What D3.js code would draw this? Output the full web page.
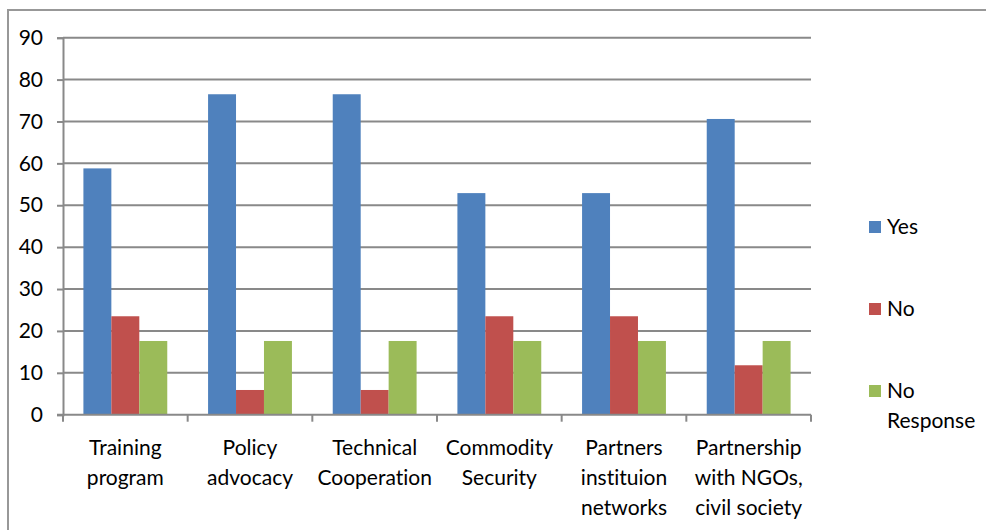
<!DOCTYPE html>
<html lang="en">
<head>
<meta charset="UTF-8" />
<title>Chart</title>
<style>
    body { margin: 0; background: #fff; }
    text { font-family: Lato, "Noto Sans", sans-serif; fill: #000; font-variant-ligatures: none; }
</style>
</head>
<body>
<div id="container"></div>
<script src="https://cdnjs.cloudflare.com/ajax/libs/d3/7.8.5/d3.min.js"></script>
<script>
    // data
    let categories = [["Training", "program"], ["Policy", "advocacy"], ["Technical", "Cooperation"],
        ["Commodity", "Security"], ["Partners", "instituion", "networks"], ["Partnership", "with NGOs,", "civil society"]];
    let series = ["Yes", "No", "No Response"];
    let yes = [58.8, 76.5, 76.5, 52.9, 52.9, 70.6],
        no = [23.5, 5.9, 5.9, 23.5, 23.5, 11.8],
        noResponse = [17.6, 17.6, 17.6, 17.6, 17.6, 17.6];
    let yTicks = [0, 10, 20, 30, 40, 50, 60, 70, 80, 90];
    let colors = ["#4F81BD", "#C0504D", "#9BBB59"];

    let W = 986, H = 530;
    let mLeft = 63, mRight = 811, mTop = 37.7, mBottom = 414.7;

    let svg = d3.select("#container").append("svg").attr("width", W).attr("height", H);

    // outer border (runs past the right and bottom edge)
    svg.append("rect").attr("x", 8).attr("y", 10).attr("width", 1000).attr("height", 560)
        .attr("fill", "none").attr("stroke", "#989898").attr("stroke-width", 2);

    let x = d3.scaleBand().domain(d3.range(categories.length)).range([mLeft, mRight]).paddingInner(0).paddingOuter(0);
    let xs = d3.scaleBand().domain(series).range([0, x.bandwidth()]).paddingInner(0).paddingOuter(0.73);
    let y = d3.scaleLinear().domain([0, 90]).range([mBottom, mTop]);

    // gridlines
    svg.append("g").selectAll("line").data(yTicks.filter(d => d > 0)).enter().append("line")
        .attr("x1", mLeft).attr("x2", mRight)
        .attr("y1", d => y(d)).attr("y2", d => y(d))
        .attr("stroke", "#898989").attr("stroke-width", 2);

    // bars
    let rows = categories.map((c, i) => [yes[i], no[i], noResponse[i]]);
    let grp = svg.append("g").selectAll("g").data(rows).enter().append("g")
        .attr("transform", (d, i) => `translate(${x(i)},0)`);
    grp.selectAll("rect").data(d => d.map((v, j) => ({ v: v, s: series[j], j: j }))).enter().append("rect")
        .attr("x", d => xs(d.s))
        .attr("width", xs.bandwidth())
        .attr("y", d => y(d.v))
        .attr("height", d => mBottom - y(d.v))
        .attr("fill", d => colors[d.j]);

    // y axis
    let yAxis = svg.append("g").attr("transform", `translate(${mLeft},0)`)
        .call(d3.axisLeft(y).tickValues(yTicks).tickSize(6).tickPadding(14));
    yAxis.select(".domain").attr("stroke", "#898989").attr("stroke-width", 2);
    yAxis.selectAll(".tick line").attr("stroke", "#898989").attr("stroke-width", 2);
    yAxis.selectAll(".tick text").style("font-size", "21px").attr("font-family", "Lato, 'Noto Sans', sans-serif");

    // x axis
    let xAxis = svg.append("g").attr("transform", `translate(0,${mBottom})`);
    xAxis.append("line").attr("x1", mLeft - 6).attr("x2", mRight).attr("y1", 0).attr("y2", 0)
        .attr("stroke", "#898989").attr("stroke-width", 2);
    xAxis.selectAll(".tk").data(d3.range(categories.length + 1)).enter().append("line")
        .attr("x1", i => i < categories.length ? x(i) : mRight)
        .attr("x2", i => i < categories.length ? x(i) : mRight)
        .attr("y1", 0).attr("y2", 7)
        .attr("stroke", "#898989").attr("stroke-width", 2);
    let lbl = xAxis.selectAll(".lbl").data(categories).enter().append("text")
        .attr("text-anchor", "middle").style("font-size", "21px")
        .attr("transform", (d, i) => `translate(${x(i) + x.bandwidth() / 2},40)`);
    lbl.selectAll("tspan").data(d => d).enter().append("tspan")
        .attr("x", 0).attr("dy", (d, i) => i === 0 ? 0 : 30).text(d => d);

    // legend
    let legendY = [227, 309, 391];
    let lg = svg.append("g").selectAll("g").data(series).enter().append("g")
        .attr("transform", (d, i) => `translate(869,${legendY[i]})`);
    lg.append("rect").attr("x", 0).attr("y", -6).attr("width", 12).attr("height", 12)
        .attr("fill", (d, i) => colors[i]);
    let lt = lg.append("text").attr("x", 18).attr("y", 7).style("font-size", "21px");
    lt.selectAll("tspan").data(d => d === "No Response" ? ["No", "Response"] : [d]).enter().append("tspan")
        .attr("x", 18).attr("dy", (d, i) => i === 0 ? 0 : 30).text(d => d);
</script>
</body>
</html>
